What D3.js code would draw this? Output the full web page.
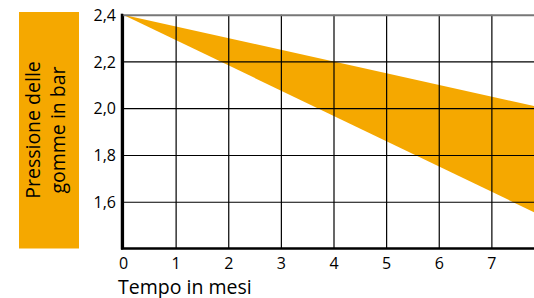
<!DOCTYPE html>
<html>
<head>
<meta charset="utf-8">
<script src="https://cdn.jsdelivr.net/npm/d3@7"></script>
<style>
  body { margin: 0; background: #fff; }
  text { font-family: "Open Sans", "Noto Sans", sans-serif; fill: #000; }
</style>
</head>
<body>
<svg></svg>
<script>
// chart data
var months = [0, 8];
var upperPressure = [2.4, 2.0];
var lowerPressure = [2.4, 1.535];
var xTicks = [0, 1, 2, 3, 4, 5, 6, 7];
var yTicks = [1.6, 1.8, 2.0, 2.2, 2.4];
var yLabelLines = ['Pressione delle', 'gomme in bar'];
var xLabel = 'Tempo in mesi';

var width = 534;
var height = 298;
var plotLeft = 123;
var plotRight = 534;
var plotTop = 14.7;
var plotBottom = 248.5;
var orange = '#f5a800';

var svg = d3.select('svg').attr('width', width).attr('height', height);

var xScale = d3.scaleLinear().domain([0, 7.81]).range([plotLeft, plotRight]);
var yScale = d3.scaleLinear().domain([1.4, 2.4]).range([plotBottom, plotTop]);

svg.append('clipPath')
  .attr('id', 'plot')
  .append('rect')
  .attr('x', plotLeft)
  .attr('y', plotTop)
  .attr('width', plotRight - plotLeft)
  .attr('height', plotBottom - plotTop);

// orange label box
svg.append('rect')
  .attr('x', 19)
  .attr('y', 12)
  .attr('width', 60)
  .attr('height', 236.5)
  .attr('fill', orange);

svg.append('text')
  .attr('transform', 'translate(49,130) rotate(-90)')
  .attr('text-anchor', 'middle')
  .style('font-size', '19.5px')
  .selectAll('tspan')
  .data(yLabelLines)
  .enter()
  .append('tspan')
  .attr('x', 0)
  .attr('y', (d, i) => -9 + i * 24.5)
  .text((d) => d);

// band
var band = months.map((m, i) => ({ m: m, hi: upperPressure[i], lo: lowerPressure[i] }));
svg.append('path')
  .datum(band)
  .attr('clip-path', 'url(#plot)')
  .attr('fill', orange)
  .attr('d', d3.area()
    .x((d) => xScale(d.m))
    .y0((d) => yScale(d.lo))
    .y1((d) => yScale(d.hi)));

// grid
var xAxis = d3.axisBottom(xScale)
  .tickValues(xTicks)
  .tickSize(-(plotBottom - plotTop))
  .tickSizeOuter(0)
  .tickPadding(9.5)
  .tickFormat(d3.format('d'));
var gx = svg.append('g')
  .attr('transform', 'translate(0,' + plotBottom + ')')
  .call(xAxis);
gx.select('.domain').remove();
gx.selectAll('line').attr('stroke', '#000').attr('stroke-width', 1.2);
gx.selectAll('text').style('font-size', '16px');

var yAxis = d3.axisLeft(yScale)
  .tickValues(yTicks)
  .tickSize(-(plotRight - plotLeft))
  .tickSizeOuter(0)
  .tickPadding(7)
  .tickFormat((d) => d3.format('.1f')(d).replace('.', ','));
var gy = svg.append('g')
  .attr('transform', 'translate(' + plotLeft + ',0)')
  .call(yAxis);
gy.select('.domain').remove();
gy.selectAll('line').attr('stroke', '#000').attr('stroke-width', 1.2);
gy.selectAll('.tick')
  .filter((d) => d === 2.4)
  .select('line')
  .attr('stroke', '#777')
  .attr('stroke-width', 2);
gy.selectAll('text')
  .style('font-size', '16px')
  .attr('dy', '0.36em');

// axis lines
svg.append('line')
  .attr('x1', plotLeft - 1)
  .attr('x2', plotLeft - 1)
  .attr('y1', plotTop - 1)
  .attr('y2', plotBottom + 1)
  .attr('stroke', '#000')
  .attr('stroke-width', 2.5);
svg.append('line')
  .attr('x1', plotLeft - 2)
  .attr('x2', plotRight)
  .attr('y1', plotBottom)
  .attr('y2', plotBottom)
  .attr('stroke', '#000')
  .attr('stroke-width', 2.5);

svg.append('text')
  .attr('x', 118)
  .attr('y', 293.5)
  .style('font-size', '19.5px')
  .text(xLabel);
</script>
</body>
</html>
